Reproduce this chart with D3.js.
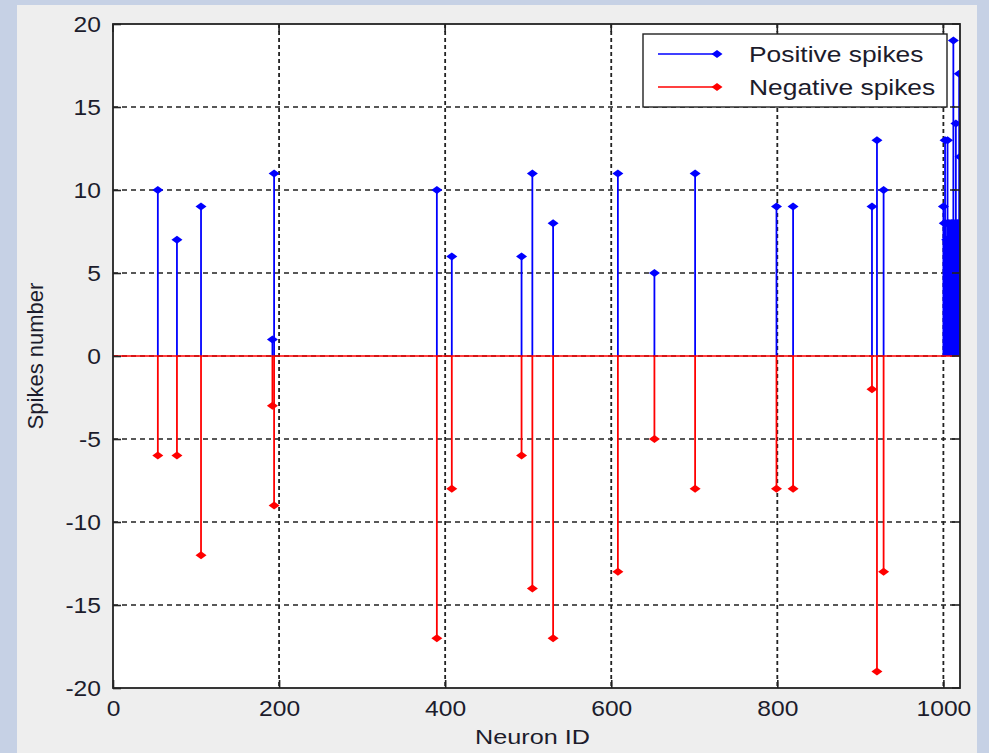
<!DOCTYPE html>
<html>
<head>
<meta charset="utf-8">
<script src="https://cdn.jsdelivr.net/npm/d3@7"></script>
<style>
body { margin: 0; background: #c6d1e5; }
svg { display: block; }
text { font-family: "Liberation Sans", Arial, sans-serif; fill: #1c1c2c; }
</style>
</head>
<body>
<div id="chart"></div>
<script>
// neurons that fired
var neuronIds = [54, 77, 106, 192, 194, 390, 408, 492, 505, 530, 608, 652, 701, 799, 819, 914, 920, 928];
var posSpikes = [10, 7, 9, 1, 11, 10, 6, 6, 11, 8, 11, 5, 11, 9, 9, 9, 13, 10];
var negSpikes = [-6, -6, -12, -3, -9, -17, -8, -6, -14, -17, -13, -5, -8, -8, -8, -2, -19, -13];

// dense block at the end of the range (only positive)
var clusterIds = [1000, 1001, 1002, 1003, 1004, 1005, 1006, 1007, 1008, 1009, 1010, 1011, 1012, 1013, 1014, 1015, 1016, 1017, 1018, 1019, 1020];
var clusterPos = [9, 8, 13, 8, 7, 13, 8, 8, 7, 8, 8, 8, 19, 8, 7, 14, 8, 8, 8, 17, 12];

var xTicks = [0, 200, 400, 600, 800, 1000];
var yTicks = [-20, -15, -10, -5, 0, 5, 10, 15, 20];
var seriesNames = ['Positive spikes', 'Negative spikes'];
var seriesColors = ['#0000ff', '#ff0000'];

window.onload = function(){

	var width = 989, height = 753;
	var m = {left: 113, right: 29, top: 24, bottom: 65};

	var svg = d3.select('#chart').append('svg').attr('width', width).attr('height', height);

	svg.append('rect').attr('x', 17).attr('y', 5).attr('width', 960).attr('height', height - 5)
		.attr('fill', '#eeeeee');

	var x = d3.scaleLinear().domain([0, 1020]).range([m.left, width - m.right]);
	var y = d3.scaleLinear().domain([-20, 20]).range([height - m.bottom, m.top]);

	var x0 = x.range()[0], x1 = x.range()[1], y0 = y.range()[1], y1 = y.range()[0];

	svg.append('rect').attr('x', x0).attr('y', y0).attr('width', x1 - x0).attr('height', y1 - y0)
		.attr('fill', '#ffffff');

	svg.append('clipPath').attr('id', 'clip').append('rect')
		.attr('x', x0).attr('y', y0).attr('width', x1 - x0).attr('height', y1 - y0);

	// grid
	var grid = svg.append('g');
	grid.selectAll('.hg').data(yTicks.filter(function(d){ return d > -20 && d < 20; })).enter().append('line')
		.attr('x1', x0).attr('x2', x1)
		.attr('y1', function(d){ return y(d); }).attr('y2', function(d){ return y(d); })
		.attr('stroke', '#222').attr('stroke-width', 1.4).attr('stroke-dasharray', '5,4');
	grid.selectAll('.vg').data(xTicks.filter(function(d){ return d > 0; })).enter().append('line')
		.attr('y1', y0).attr('y2', y1)
		.attr('x1', function(d){ return x(d); }).attr('x2', function(d){ return x(d); })
		.attr('stroke', '#222').attr('stroke-width', 1.8).attr('stroke-dasharray', '4,3');

	var plot = svg.append('g').attr('clip-path', 'url(#clip)');

	var pos = neuronIds.map(function(id, i){ return {id: id, v: posSpikes[i]}; })
		.concat(clusterIds.map(function(id, i){ return {id: id, v: clusterPos[i]}; }));
	var neg = neuronIds.map(function(id, i){ return {id: id, v: negSpikes[i]}; });

	drawStems(plot, pos, seriesColors[0], x, y);
	drawStems(plot, neg, seriesColors[1], x, y);

	// baseline
	plot.append('line').attr('x1', x0).attr('x2', x1).attr('y1', y(0)).attr('y2', y(0))
		.attr('stroke', seriesColors[1]).attr('stroke-width', 1.6);

	// frame
	svg.append('rect').attr('x', x0).attr('y', y0).attr('width', x1 - x0).attr('height', y1 - y0)
		.attr('fill', 'none').attr('stroke', '#222').attr('stroke-width', 1.8);

	// axes, ticks inward
	var fmt = function(d){ return String(d); };
	var xAxis = d3.axisBottom(x).tickValues(xTicks).tickFormat(fmt).tickSizeInner(-8).tickSizeOuter(0).tickPadding(14);
	var yAxis = d3.axisLeft(y).tickValues(yTicks).tickFormat(fmt).tickSizeInner(-8).tickSizeOuter(0).tickPadding(12);

	var gx = svg.append('g').attr('transform', 'translate(0,' + y1 + ')').call(xAxis);
	var gy = svg.append('g').attr('transform', 'translate(' + x0 + ',0)').call(yAxis);
	[gx, gy].forEach(function(g){
		g.select('.domain').remove();
		g.selectAll('.tick line').attr('stroke', '#222').attr('stroke-width', 1.6);
		g.selectAll('.tick text').attr('font-size', 22).attr('fill', '#1c1c2c')
			.style('font-family', '"Liberation Sans", Arial, sans-serif');
	});
	// stretch labels sideways a little, like the picture
	gy.selectAll('.tick text').attr('x', null).attr('dy', '0.36em')
		.attr('transform', 'translate(-12,0) scale(1.12,1)');
	gx.selectAll('.tick text').attr('y', null).attr('dy', '0.71em')
		.attr('transform', 'translate(0,12) scale(1.12,1)');

	// ticks on top and right edges
	svg.append('g').selectAll('line').data(xTicks).enter().append('line')
		.attr('x1', function(d){ return x(d); }).attr('x2', function(d){ return x(d); })
		.attr('y1', y0).attr('y2', y0 + 8).attr('stroke', '#222').attr('stroke-width', 1.6);
	svg.append('g').selectAll('line').data(yTicks).enter().append('line')
		.attr('y1', function(d){ return y(d); }).attr('y2', function(d){ return y(d); })
		.attr('x1', x1).attr('x2', x1 - 8).attr('stroke', '#222').attr('stroke-width', 1.6);

	// axis labels
	svg.append('text').attr('transform', 'translate(' + ((x0 + x1) / 2 - 4) + ',744) scale(1.2,1)')
		.attr('text-anchor', 'middle').attr('font-size', 21).text('Neuron ID');
	svg.append('text').attr('transform', 'translate(43,' + y(0) + ') rotate(-90)')
		.attr('text-anchor', 'middle').attr('font-size', 22).text('Spikes number');

	// legend
	var lg = svg.append('g');
	lg.append('rect').attr('x', 643).attr('y', 34).attr('width', 304).attr('height', 73)
		.attr('fill', '#ffffff').attr('stroke', '#222').attr('stroke-width', 1.4);
	seriesNames.forEach(function(name, i){
		var ly = 54 + i * 33;
		lg.append('line').attr('x1', 658).attr('x2', 717).attr('y1', ly).attr('y2', ly)
			.attr('stroke', seriesColors[i]).attr('stroke-width', 1.6);
		lg.append('path').attr('d', diamond(717, ly)).attr('fill', seriesColors[i]);
		lg.append('text').attr('transform', 'translate(749,' + (ly + 8) + ') scale(1.2,1)')
			.attr('font-size', 22).text(name);
	});
}

function diamond(cx, cy){
	return 'M' + (cx - 5.5) + ',' + cy + 'L' + cx + ',' + (cy - 4) + 'L' + (cx + 5.5) + ',' + cy +
		'L' + cx + ',' + (cy + 4) + 'Z';
}

function drawStems(g, data, color, x, y){
	g.append('g').selectAll('line').data(data).enter().append('line')
		.attr('x1', function(d){ return x(d.id); }).attr('x2', function(d){ return x(d.id); })
		.attr('y1', y(0)).attr('y2', function(d){ return y(d.v); })
		.attr('stroke', color).attr('stroke-width', 1.8);
	g.append('g').selectAll('path').data(data).enter().append('path')
		.attr('d', function(d){ return diamond(x(d.id), y(d.v)); })
		.attr('fill', color);
}
</script>
</body>
</html>
